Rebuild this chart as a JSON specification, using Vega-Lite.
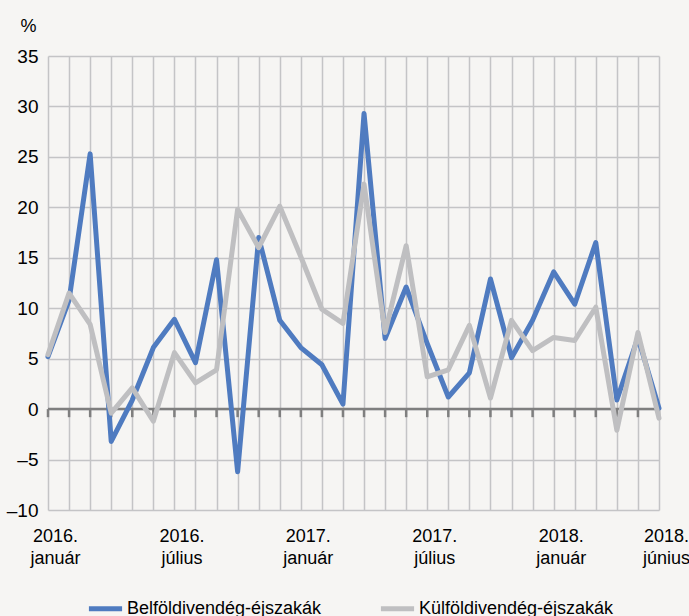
{
  "$schema": "https://vega.github.io/schema/vega-lite/v6.json",
  "width": 611,
  "height": 454,
  "autosize": {"type": "none"},
  "padding": {"left": 48, "top": 56, "right": 30, "bottom": 106},
  "background": "#f6f5f3",
  "config": {
    "view": {"stroke": null},
    "font": "Liberation Sans, Arial, sans-serif",
    "axis": {"labelFont": "Liberation Sans, Arial, sans-serif", "labelColor": "#000000", "titleColor": "#000000"},
    "legend": {"labelFont": "Liberation Sans, Arial, sans-serif", "labelColor": "#000000"}
  },
  "data": {
    "values": [
      {"m": "2016-01", "b": 5.2, "k": 5.4},
      {"m": "2016-02", "b": 10.8, "k": 11.5},
      {"m": "2016-03", "b": 25.3, "k": 8.4},
      {"m": "2016-04", "b": -3.2, "k": -0.4},
      {"m": "2016-05", "b": 0.9, "k": 2.1},
      {"m": "2016-06", "b": 6.1, "k": -1.2},
      {"m": "2016-07", "b": 8.9, "k": 5.6},
      {"m": "2016-08", "b": 4.6, "k": 2.6},
      {"m": "2016-09", "b": 14.8, "k": 3.9},
      {"m": "2016-10", "b": -6.2, "k": 19.8},
      {"m": "2016-11", "b": 17.0, "k": 16.0},
      {"m": "2016-12", "b": 8.8, "k": 20.1},
      {"m": "2017-01", "b": 6.1, "k": 15.1},
      {"m": "2017-02", "b": 4.4, "k": 9.9},
      {"m": "2017-03", "b": 0.5, "k": 8.5},
      {"m": "2017-04", "b": 29.3, "k": 22.3},
      {"m": "2017-05", "b": 7.0, "k": 7.6},
      {"m": "2017-06", "b": 12.1, "k": 16.2},
      {"m": "2017-07", "b": 6.5, "k": 3.2},
      {"m": "2017-08", "b": 1.2, "k": 3.9},
      {"m": "2017-09", "b": 3.6, "k": 8.3},
      {"m": "2017-10", "b": 12.9, "k": 1.1},
      {"m": "2017-11", "b": 5.1, "k": 8.8},
      {"m": "2017-12", "b": 8.8, "k": 5.8},
      {"m": "2018-01", "b": 13.6, "k": 7.1},
      {"m": "2018-02", "b": 10.4, "k": 6.8},
      {"m": "2018-03", "b": 16.5, "k": 10.1},
      {"m": "2018-04", "b": 0.9, "k": -2.1},
      {"m": "2018-05", "b": 7.1, "k": 7.6},
      {"m": "2018-06", "b": 0.1, "k": -0.9}
    ]
  },
  "layer": [
    {
      "mark": {"type": "rule", "color": "#7f7f7f", "strokeWidth": 2.5},
      "encoding": {
        "x": {"field": "m", "type": "ordinal", "scale": {"type": "point", "padding": 0}},
        "y": {"datum": 0, "type": "quantitative"},
        "y2": {"datum": -0.8}
      }
    },
    {
      "data": {"values": [{}]},
      "mark": {"type": "rule", "color": "#7f7f7f", "strokeWidth": 2.5},
      "encoding": {"y": {"datum": 0, "type": "quantitative"}}
    },
    {
      "transform": [{"fold": ["b", "k"], "as": ["series", "value"]}],
      "mark": {"type": "line", "strokeWidth": 5, "strokeJoin": "round", "strokeCap": "round"},
      "encoding": {
        "x": {
          "field": "m",
          "type": "ordinal",
          "scale": {"type": "point", "padding": 0},
          "axis": {
            "title": null,
            "grid": true,
            "gridColor": "#c4c4c6",
            "gridWidth": 1.5,
            "domain": false,
            "ticks": false,
            "labelAngle": 0,
            "labelAlign": "center",
            "labelFontSize": 18,
            "labelPadding": 17,
            "labelOffset": 7,
            "labelLineHeight": 22,
            "labelBaseline": "top",
            "labelOverlap": false,
            "labelFlush": false,
            "labelExpr": "datum.value == '2016-01' ? ['2016.', 'január'] : datum.value == '2016-07' ? ['2016.', 'július'] : datum.value == '2017-01' ? ['2017.', 'január'] : datum.value == '2017-07' ? ['2017.', 'július'] : datum.value == '2018-01' ? ['2018.', 'január'] : datum.value == '2018-06' ? ['2018.', 'június'] : ''"
          }
        },
        "y": {
          "field": "value",
          "type": "quantitative",
          "scale": {"domain": [-10, 35], "nice": false, "zero": false},
          "axis": {
            "values": [-10, -5, 0, 5, 10, 15, 20, 25, 30, 35],
            "title": "%",
            "titleAngle": 0,
            "titleFontSize": 18,
            "titleFontWeight": "normal",
            "titleFont": "Liberation Sans, Arial, sans-serif",
            "titleAlign": "center",
            "titleBaseline": "middle",
            "titleX": -20,
            "titleY": -30,
            "grid": true,
            "gridColor": "#c4c4c6",
            "gridWidth": 1.5,
            "domain": false,
            "ticks": false,
            "labelFontSize": 19,
            "labelPadding": 10,
            "labelExpr": "datum.value < 0 ? '–' + abs(datum.value) : datum.label"
          }
        },
        "color": {
          "field": "series",
          "type": "nominal",
          "scale": {"domain": ["b", "k"], "range": ["#4f7bc0", "#bfbfc1"]},
          "legend": {
            "title": null,
            "orient": "none",
            "direction": "horizontal",
            "legendX": 38,
            "legendY": 533,
            "symbolType": "stroke",
            "symbolSize": 1100,
            "symbolStrokeWidth": 5,
            "labelFontSize": 18,
            "labelOffset": 2,
            "labelLimit": 300,
            "columnPadding": 48,
            "labelExpr": "datum.value == 'b' ? 'Belföldivendég-éjszakák' : 'Külföldivendég-éjszakák'"
          }
        },
        "order": {"field": "m"}
      }
    }
  ]
}
